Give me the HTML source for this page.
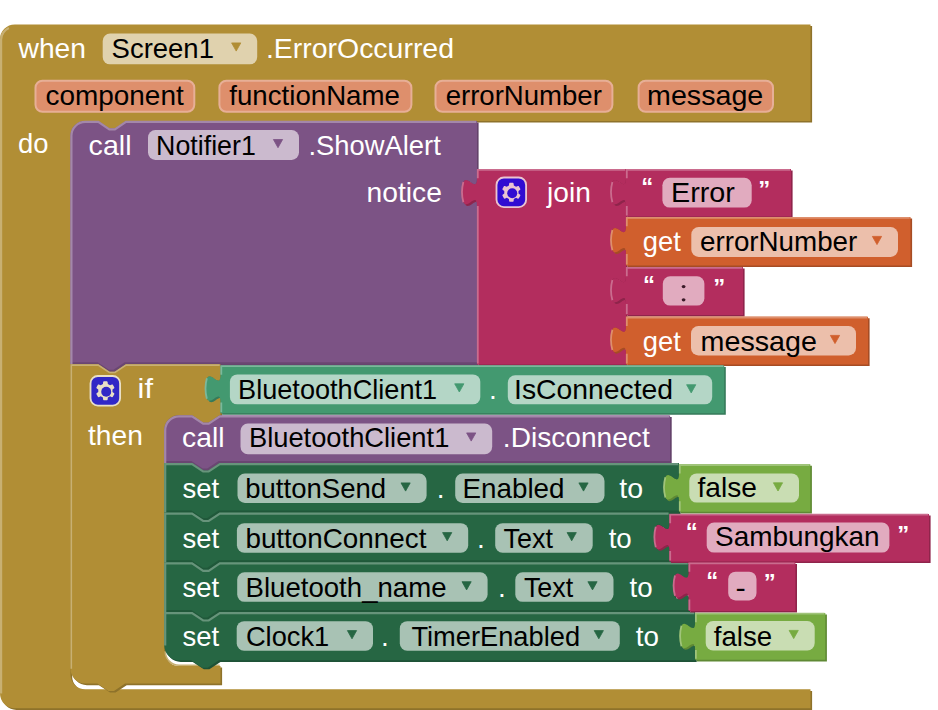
<!DOCTYPE html>
<html><head><meta charset="utf-8"><style>
html,body{margin:0;padding:0;background:#fff;}
svg{display:block;}
text{font-family:"Liberation Sans",sans-serif;}
</style></head><body>
<svg width="938" height="710" viewBox="0 0 938 710">
<path transform="translate(1.6,1.6)" fill="#8e722a" d="M 0,39.3 A 14.8,14.8 0 0,1 14.8,24.5 H 810.5 V 121 H 126 l -11.1,7.4 -5.55,0 -11.1,-7.4 h -12.95 a 14.8,14.8 0 0,0 -14.8,14.8 V 674.5 a 14.8,14.8 0 0,0 14.8,14.8 H 810.5 V 708.3 H 14.8 a 14.8,14.8 0 0,1 -14.8,-14.8 Z"/>
<path fill="#B18E35" d="M 0,39.3 A 14.8,14.8 0 0,1 14.8,24.5 H 810.5 V 121 H 126 l -11.1,7.4 -5.55,0 -11.1,-7.4 h -12.95 a 14.8,14.8 0 0,0 -14.8,14.8 V 674.5 a 14.8,14.8 0 0,0 14.8,14.8 H 810.5 V 708.3 H 14.8 a 14.8,14.8 0 0,1 -14.8,-14.8 Z"/>
<path fill="none" stroke="#c8b072" stroke-width="2.2" d="M 1.1,693.5 V 39.3 A 13.7,13.7 0 0,1 8.88,28"/>
<text x="18.54" y="58.3" font-size="28" fill="#fff" textLength="67.46" lengthAdjust="spacingAndGlyphs">when</text>
<rect x="102.7" y="33.5" width="154.5" height="30.8" rx="7.4" fill="#e0d2ae"/>
<text x="111.55" y="58.2" font-size="28" fill="#000" textLength="102.39" lengthAdjust="spacingAndGlyphs">Screen1</text>
<path fill="#B18E35" stroke="#B18E35" stroke-width="0.8" stroke-linejoin="round" d="M 231.6,42.9 H 240.8 L 236.2,51.1 Z"/>
<text x="265.9" y="58.3" font-size="28" fill="#fff" textLength="188.13" lengthAdjust="spacingAndGlyphs">.ErrorOccurred</text>
<rect x="35.5" y="80.7" width="158.8" height="31.1" rx="7" fill="#DE8F6C" stroke="#E7AF96" stroke-width="2"/>
<text x="45.41" y="105.2" font-size="28" fill="#000" textLength="138.29" lengthAdjust="spacingAndGlyphs">component</text>
<rect x="219.4" y="80.7" width="192" height="31.1" rx="7" fill="#DE8F6C" stroke="#E7AF96" stroke-width="2"/>
<text x="229.31" y="105.2" font-size="28" fill="#000" textLength="170.62" lengthAdjust="spacingAndGlyphs">functionName</text>
<rect x="435.5" y="80.7" width="176.9" height="31.1" rx="7" fill="#DE8F6C" stroke="#E7AF96" stroke-width="2"/>
<text x="445.63" y="105.2" font-size="28" fill="#000" textLength="156.23" lengthAdjust="spacingAndGlyphs">errorNumber</text>
<rect x="638.6" y="80.7" width="134.4" height="31.1" rx="7" fill="#DE8F6C" stroke="#E7AF96" stroke-width="2"/>
<text x="647.1" y="105.2" font-size="28" fill="#000" textLength="116.17" lengthAdjust="spacingAndGlyphs">message</text>
<text x="18.05" y="152.6" font-size="28" fill="#fff" textLength="30.5" lengthAdjust="spacingAndGlyphs">do</text>
<path transform="translate(1.6,1.6)" fill="#63426a" d="M 70.5,135.8 A 14.8,14.8 0 0,1 85.3,121 H 98.25 l 11.1,7.4 5.55,0 11.1,-7.4 H 477 V 178.25 c 0,18.5 -14.8,-14.8 -14.8,13.88 s 14.8,-4.62 14.8,13.88 V 364.3 H 125.08 l -11.1,7.4 -5.55,0 -11.1,-7.4 H 70.5 Z"/>
<path fill="#7C5385" d="M 70.5,135.8 A 14.8,14.8 0 0,1 85.3,121 H 98.25 l 11.1,7.4 5.55,0 11.1,-7.4 H 477 V 178.25 c 0,18.5 -14.8,-14.8 -14.8,13.88 s 14.8,-4.62 14.8,13.88 V 364.3 H 125.08 l -11.1,7.4 -5.55,0 -11.1,-7.4 H 70.5 Z"/>
<path fill="none" stroke="#63426a" stroke-opacity="0.7" stroke-width="2" d="M 477,363.3 H 125.08 l -11.1,7.4 -5.55,0 -11.1,-7.4 H 70.5"/>
<path fill="none" stroke="#a387aa" stroke-width="2.2" d="M 71.4,364.3 V 135.8 A 13.9,13.9 0 0,1 85.3,121.9 H 98.25 l 11.1,7.4 5.55,0 11.1,-7.4 H 476.2"/>
<text x="88.58" y="154.8" font-size="28" fill="#fff" textLength="42.93" lengthAdjust="spacingAndGlyphs">call</text>
<rect x="148" y="130.1" width="151" height="29.9" rx="7.4" fill="#cbbace"/>
<text x="156.1" y="154.9" font-size="28" fill="#000" textLength="99.7" lengthAdjust="spacingAndGlyphs">Notifier1</text>
<path fill="#7C5385" stroke="#7C5385" stroke-width="0.8" stroke-linejoin="round" d="M 273.4,139.5 H 282.6 L 278,147.7 Z"/>
<text x="308.4" y="154.8" font-size="28" fill="#fff" textLength="132.4" lengthAdjust="spacingAndGlyphs">.ShowAlert</text>
<text x="366.53" y="202.4" font-size="28" fill="#fff" textLength="75.33" lengthAdjust="spacingAndGlyphs">notice</text>
<path transform="translate(1.6,1.6)" fill="#8f244b" d="M 477,169 H 626 V 178.25 c 0,18.5 -14.8,-14.8 -14.8,13.88 s 14.8,-4.62 14.8,13.88 V 226.25 c 0,18.5 -14.8,-14.8 -14.8,13.88 s 14.8,-4.62 14.8,13.88 V 276.25 c 0,18.5 -14.8,-14.8 -14.8,13.88 s 14.8,-4.62 14.8,13.88 V 325.95 c 0,18.5 -14.8,-14.8 -14.8,13.88 s 14.8,-4.62 14.8,13.88 V 364.5 H 477 V 206 c 0,-18.5 -14.8,14.8 -14.8,-13.88 s 14.8,4.62 14.8,-13.88 Z"/>
<path fill="#B32D5E" d="M 477,169 H 626 V 178.25 c 0,18.5 -14.8,-14.8 -14.8,13.88 s 14.8,-4.62 14.8,13.88 V 226.25 c 0,18.5 -14.8,-14.8 -14.8,13.88 s 14.8,-4.62 14.8,13.88 V 276.25 c 0,18.5 -14.8,-14.8 -14.8,13.88 s 14.8,-4.62 14.8,13.88 V 325.95 c 0,18.5 -14.8,-14.8 -14.8,13.88 s 14.8,-4.62 14.8,13.88 V 364.5 H 477 V 206 c 0,-18.5 -14.8,14.8 -14.8,-13.88 s 14.8,4.62 14.8,-13.88 Z"/>
<path fill="none" stroke="#ca6c8e" stroke-width="1.8" d="M 477.8,363.5 V 206 M 463.38,202.3 q -2.81,-10.18 0,-20.35 M 477.8,178.25 V 169.8 H 625.2"/>
<g transform="translate(496.5,177.5) scale(1.85)" opacity="0.72"><rect x="0" y="0" width="16" height="16" rx="4" fill="#00f" stroke="#fff" stroke-width="1"/><path fill="#fff" d="m4.203,7.296 0,1.368 -0.92,0.677 -0.11,0.41 0.9,1.559 0.41,0.11 1.043,-0.457 1.187,0.683 0.127,1.134 0.3,0.3 1.8,0 0.3,-0.299 0.127,-1.138 1.185,-0.682 1.046,0.458 0.409,-0.11 0.9,-1.559 -0.11,-0.41 -0.92,-0.677 0,-1.366 0.92,-0.677 0.11,-0.41 -0.9,-1.559 -0.409,-0.109 -1.046,0.458 -1.185,-0.682 -0.127,-1.138 -0.3,-0.299 -1.8,0 -0.3,0.3 -0.126,1.135 -1.187,0.682 -1.043,-0.457 -0.41,0.11 -0.899,1.559 0.108,0.409z"/><circle cx="8.5" cy="8.5" r="2.7" fill="#00f"/></g>
<text x="547.07" y="202" font-size="28" fill="#fff" textLength="43.81" lengthAdjust="spacingAndGlyphs">join</text>
<path transform="translate(1.6,1.6)" fill="#8f244b" d="M 626,169 H 791 V 216.5 H 626 V 206 c 0,-18.5 -14.8,14.8 -14.8,-13.88 s 14.8,4.62 14.8,-13.88 Z"/>
<path fill="#B32D5E" d="M 626,169 H 791 V 216.5 H 626 V 206 c 0,-18.5 -14.8,14.8 -14.8,-13.88 s 14.8,4.62 14.8,-13.88 Z"/>
<path fill="none" stroke="#ca6c8e" stroke-width="1.8" d="M 626.8,215.5 V 206 M 612.38,202.3 q -2.81,-10.18 0,-20.35 M 626.8,178.25 V 169.8 H 790.2"/>
<text x="641.33" y="195.31" font-size="24" font-weight="bold" fill="#fff">&#8220;</text>
<text x="758.33" y="197.61" font-size="24" font-weight="bold" fill="#fff">&#8221;</text>
<rect x="662.4" y="177.8" width="89.3" height="29.8" rx="7.4" fill="#e1abbf"/>
<text x="670.94" y="201.7" font-size="28" fill="#000" textLength="63.94" lengthAdjust="spacingAndGlyphs">Error</text>
<path transform="translate(1.6,1.6)" fill="#a64c24" d="M 626,217 H 910.5 V 265.5 H 626 V 254 c 0,-18.5 -14.8,14.8 -14.8,-13.88 s 14.8,4.62 14.8,-13.88 Z"/>
<path fill="#D05F2D" d="M 626,217 H 910.5 V 265.5 H 626 V 254 c 0,-18.5 -14.8,14.8 -14.8,-13.88 s 14.8,4.62 14.8,-13.88 Z"/>
<path fill="none" stroke="#de8f6c" stroke-width="1.8" d="M 626.8,264.5 V 254 M 612.38,250.3 q -2.81,-10.18 0,-20.35 M 626.8,226.25 V 217.8 H 909.7"/>
<text x="642.76" y="251" font-size="28" fill="#fff" textLength="38.04" lengthAdjust="spacingAndGlyphs">get</text>
<rect x="691.3" y="227" width="206.7" height="30" rx="7.4" fill="#ecbfab"/>
<text x="700.02" y="251.1" font-size="28" fill="#000" textLength="157.24" lengthAdjust="spacingAndGlyphs">errorNumber</text>
<path fill="#D05F2D" stroke="#D05F2D" stroke-width="0.8" stroke-linejoin="round" d="M 872.4,236.4 H 881.6 L 877,244.6 Z"/>
<path transform="translate(1.6,1.6)" fill="#8f244b" d="M 626,267 H 743 V 315 H 626 V 304 c 0,-18.5 -14.8,14.8 -14.8,-13.88 s 14.8,4.62 14.8,-13.88 Z"/>
<path fill="#B32D5E" d="M 626,267 H 743 V 315 H 626 V 304 c 0,-18.5 -14.8,14.8 -14.8,-13.88 s 14.8,4.62 14.8,-13.88 Z"/>
<path fill="none" stroke="#ca6c8e" stroke-width="1.8" d="M 626.8,314 V 304 M 612.38,300.3 q -2.81,-10.18 0,-20.35 M 626.8,276.25 V 267.8 H 742.2"/>
<text x="643.03" y="293.31" font-size="24" font-weight="bold" fill="#fff">&#8220;</text>
<text x="713.23" y="295.61" font-size="24" font-weight="bold" fill="#fff">&#8221;</text>
<rect x="662.8" y="276.3" width="41.6" height="29.3" rx="7.4" fill="#e1abbf"/>
<ellipse cx="683.6" cy="286.6" rx="1.9" ry="1.6" fill="#3a1a28"/><ellipse cx="683.6" cy="299.8" rx="1.9" ry="1.6" fill="#3a1a28"/>
<path transform="translate(1.6,1.6)" fill="#a64c24" d="M 626,316.7 H 868 V 364.5 H 626 V 353.7 c 0,-18.5 -14.8,14.8 -14.8,-13.88 s 14.8,4.62 14.8,-13.88 Z"/>
<path fill="#D05F2D" d="M 626,316.7 H 868 V 364.5 H 626 V 353.7 c 0,-18.5 -14.8,14.8 -14.8,-13.88 s 14.8,4.62 14.8,-13.88 Z"/>
<path fill="none" stroke="#de8f6c" stroke-width="1.8" d="M 626.8,363.5 V 353.7 M 612.38,350 q -2.81,-10.18 0,-20.35 M 626.8,325.95 V 317.5 H 867.2"/>
<text x="642.76" y="350.6" font-size="28" fill="#fff" textLength="38.04" lengthAdjust="spacingAndGlyphs">get</text>
<rect x="691" y="326" width="165" height="29.5" rx="7.4" fill="#ecbfab"/>
<text x="700.6" y="350.7" font-size="28" fill="#000" textLength="116.38" lengthAdjust="spacingAndGlyphs">message</text>
<path fill="#D05F2D" stroke="#D05F2D" stroke-width="0.8" stroke-linejoin="round" d="M 830.4,335.4 H 839.6 L 835,343.6 Z"/>
<path transform="translate(1.6,1.6)" fill="#8e722a" d="M 70.5,364.3 H 98.25 l 11.1,7.4 5.55,0 11.1,-7.4 H 220.5 V 374.65 c 0,18.5 -14.8,-14.8 -14.8,13.88 s 14.8,-4.62 14.8,13.88 V 415 H 219.8 l -11.1,7.4 -5.55,0 -11.1,-7.4 h -12.95 a 14.8,14.8 0 0,0 -14.8,14.8 V 651.2 a 14.8,14.8 0 0,0 14.8,14.8 H 220.5 V 683.6 H 125.08 l -11.1,7.4 -5.55,0 -11.1,-7.4 H 85.3 a 14.8,14.8 0 0,1 -14.8,-14.8 Z"/>
<path fill="#B18E35" d="M 70.5,364.3 H 98.25 l 11.1,7.4 5.55,0 11.1,-7.4 H 220.5 V 374.65 c 0,18.5 -14.8,-14.8 -14.8,13.88 s 14.8,-4.62 14.8,13.88 V 415 H 219.8 l -11.1,7.4 -5.55,0 -11.1,-7.4 h -12.95 a 14.8,14.8 0 0,0 -14.8,14.8 V 651.2 a 14.8,14.8 0 0,0 14.8,14.8 H 220.5 V 683.6 H 125.08 l -11.1,7.4 -5.55,0 -11.1,-7.4 H 85.3 a 14.8,14.8 0 0,1 -14.8,-14.8 Z"/>
<path fill="none" stroke="#c8b072" stroke-width="1.6" d="M 71.3,668.8 V 365.1 H 98.25 l 11.1,7.4 5.55,0 11.1,-7.4 H 219.7"/>
<path fill="none" stroke="#c8b072" stroke-width="1.6" d="M 165.1,651.2 a 14,14 0 0,0 14,14 H 219.7"/>
<g transform="translate(90.5,376) scale(1.85)" opacity="0.72"><rect x="0" y="0" width="16" height="16" rx="4" fill="#00f" stroke="#fff" stroke-width="1"/><path fill="#fff" d="m4.203,7.296 0,1.368 -0.92,0.677 -0.11,0.41 0.9,1.559 0.41,0.11 1.043,-0.457 1.187,0.683 0.127,1.134 0.3,0.3 1.8,0 0.3,-0.299 0.127,-1.138 1.185,-0.682 1.046,0.458 0.409,-0.11 0.9,-1.559 -0.11,-0.41 -0.92,-0.677 0,-1.366 0.92,-0.677 0.11,-0.41 -0.9,-1.559 -0.409,-0.109 -1.046,0.458 -1.185,-0.682 -0.127,-1.138 -0.3,-0.299 -1.8,0 -0.3,0.3 -0.126,1.135 -1.187,0.682 -1.043,-0.457 -0.41,0.11 -0.899,1.559 0.108,0.409z"/><circle cx="8.5" cy="8.5" r="2.7" fill="#00f"/></g>
<text x="137.57" y="398" font-size="28" fill="#fff" textLength="15.38" lengthAdjust="spacingAndGlyphs">if</text>
<text x="87.97" y="445" font-size="28" fill="#fff" textLength="54.86" lengthAdjust="spacingAndGlyphs">then</text>
<path transform="translate(1.6,1.6)" fill="#367a5a" d="M 220.5,365.4 H 724.2 V 413.2 H 220.5 V 402.4 c 0,-18.5 -14.8,14.8 -14.8,-13.88 s 14.8,4.62 14.8,-13.88 Z"/>
<path fill="#439970" d="M 220.5,365.4 H 724.2 V 413.2 H 220.5 V 402.4 c 0,-18.5 -14.8,14.8 -14.8,-13.88 s 14.8,4.62 14.8,-13.88 Z"/>
<path fill="none" stroke="#7bb89b" stroke-width="1.8" d="M 221.3,412.2 V 402.4 M 206.88,398.7 q -2.81,-10.18 0,-20.35 M 221.3,374.65 V 366.2 H 723.4"/>
<rect x="229.9" y="374.4" width="250.4" height="29.9" rx="7.4" fill="#b4d6c6"/>
<text x="238.08" y="398.8" font-size="28" fill="#000" textLength="199.05" lengthAdjust="spacingAndGlyphs">BluetoothClient1</text>
<path fill="#439970" stroke="#439970" stroke-width="0.8" stroke-linejoin="round" d="M 454.7,383.8 H 463.9 L 459.3,392 Z"/>
<text x="488.94" y="398.8" font-size="28" fill="#fff">.</text>
<rect x="507.8" y="375.3" width="204.4" height="29" rx="7.4" fill="#b4d6c6"/>
<text x="514.09" y="398.8" font-size="28" fill="#000" textLength="159.04" lengthAdjust="spacingAndGlyphs">IsConnected</text>
<path fill="#439970" stroke="#439970" stroke-width="0.8" stroke-linejoin="round" d="M 686.6,384.7 H 695.8 L 691.2,392.9 Z"/>
<path transform="translate(1.6,1.6)" fill="#63426a" d="M 164.3,430.2 A 14.8,14.8 0 0,1 179.1,415.4 H 192.05 l 11.1,7.4 5.55,0 11.1,-7.4 H 670.1 V 463 H 218.88 l -11.1,7.4 -5.55,0 -11.1,-7.4 H 164.3 Z"/>
<path fill="#7C5385" d="M 164.3,430.2 A 14.8,14.8 0 0,1 179.1,415.4 H 192.05 l 11.1,7.4 5.55,0 11.1,-7.4 H 670.1 V 463 H 218.88 l -11.1,7.4 -5.55,0 -11.1,-7.4 H 164.3 Z"/>
<path fill="none" stroke="#63426a" stroke-opacity="0.7" stroke-width="2" d="M 670.1,462 H 218.88 l -11.1,7.4 -5.55,0 -11.1,-7.4 H 164.3"/>
<path fill="none" stroke="#a387aa" stroke-width="2.2" d="M 165.2,463 V 430.2 A 13.9,13.9 0 0,1 179.1,416.3 H 192.05 l 11.1,7.4 5.55,0 11.1,-7.4 H 669.3"/>
<text x="182" y="447.2" font-size="28" fill="#fff" textLength="42.5" lengthAdjust="spacingAndGlyphs">call</text>
<rect x="240.5" y="423.5" width="251.7" height="30.7" rx="7.4" fill="#cbbace"/>
<text x="248.96" y="447.1" font-size="28" fill="#000" textLength="200.37" lengthAdjust="spacingAndGlyphs">BluetoothClient1</text>
<path fill="#7C5385" stroke="#7C5385" stroke-width="0.8" stroke-linejoin="round" d="M 466.6,432.9 H 475.8 L 471.2,441.1 Z"/>
<text x="502.84" y="447.2" font-size="28" fill="#fff" textLength="146.87" lengthAdjust="spacingAndGlyphs">.Disconnect</text>
<path transform="translate(1.6,1.6)" fill="#1e5236" d="M 164.3,463 H 192.05 l 11.1,7.4 5.55,0 11.1,-7.4 H 679 V 473.45 c 0,18.5 -14.8,-14.8 -14.8,13.88 s 14.8,-4.62 14.8,13.88 V 512.5 H 218.88 l -11.1,7.4 -5.55,0 -11.1,-7.4 H 164.3 Z"/>
<path fill="#266643" d="M 164.3,463 H 192.05 l 11.1,7.4 5.55,0 11.1,-7.4 H 679 V 473.45 c 0,18.5 -14.8,-14.8 -14.8,13.88 s 14.8,-4.62 14.8,13.88 V 512.5 H 218.88 l -11.1,7.4 -5.55,0 -11.1,-7.4 H 164.3 Z"/>
<path fill="none" stroke="#1e5236" stroke-opacity="0.7" stroke-width="2" d="M 679,511.5 H 218.88 l -11.1,7.4 -5.55,0 -11.1,-7.4 H 164.3"/>
<path fill="none" stroke="#67947b" stroke-width="2.2" d="M 165.2,512.5 V 464.1 H 192.05 l 11.1,7.4 5.55,0 11.1,-7.4 H 678.2"/>
<text x="182.44" y="497.9" font-size="28" fill="#fff" textLength="36.66" lengthAdjust="spacingAndGlyphs">set</text>
<rect x="237.5" y="473.5" width="189.1" height="29.5" rx="7.4" fill="#a8c2b4"/>
<text x="245.23" y="497.9" font-size="28" fill="#000" textLength="140.85" lengthAdjust="spacingAndGlyphs">buttonSend</text>
<path fill="#266643" stroke="#266643" stroke-width="0.8" stroke-linejoin="round" d="M 401,482.9 H 410.2 L 405.6,491.1 Z"/>
<text x="436.84" y="497.9" font-size="28" fill="#fff">.</text>
<rect x="455.2" y="473.5" width="149.3" height="29.5" rx="7.4" fill="#a8c2b4"/>
<text x="462.52" y="497.9" font-size="28" fill="#000" textLength="101.97" lengthAdjust="spacingAndGlyphs">Enabled</text>
<path fill="#266643" stroke="#266643" stroke-width="0.8" stroke-linejoin="round" d="M 578.9,482.9 H 588.1 L 583.5,491.1 Z"/>
<text x="619.37" y="497.9" font-size="28" fill="#fff" textLength="23.83" lengthAdjust="spacingAndGlyphs">to</text>
<path transform="translate(1.6,1.6)" fill="#1e5236" d="M 164.3,512.5 H 192.05 l 11.1,7.4 5.55,0 11.1,-7.4 H 669.4 V 522.95 c 0,18.5 -14.8,-14.8 -14.8,13.88 s 14.8,-4.62 14.8,13.88 V 562.3 H 218.88 l -11.1,7.4 -5.55,0 -11.1,-7.4 H 164.3 Z"/>
<path fill="#266643" d="M 164.3,512.5 H 192.05 l 11.1,7.4 5.55,0 11.1,-7.4 H 669.4 V 522.95 c 0,18.5 -14.8,-14.8 -14.8,13.88 s 14.8,-4.62 14.8,13.88 V 562.3 H 218.88 l -11.1,7.4 -5.55,0 -11.1,-7.4 H 164.3 Z"/>
<path fill="none" stroke="#1e5236" stroke-opacity="0.7" stroke-width="2" d="M 669.4,561.3 H 218.88 l -11.1,7.4 -5.55,0 -11.1,-7.4 H 164.3"/>
<path fill="none" stroke="#67947b" stroke-width="2.2" d="M 165.2,562.3 V 513.6 H 192.05 l 11.1,7.4 5.55,0 11.1,-7.4 H 668.6"/>
<text x="182.44" y="547.6" font-size="28" fill="#fff" textLength="36.66" lengthAdjust="spacingAndGlyphs">set</text>
<rect x="236.9" y="523.2" width="231.3" height="29.5" rx="7.4" fill="#a8c2b4"/>
<text x="245.41" y="547.6" font-size="28" fill="#000" textLength="180.99" lengthAdjust="spacingAndGlyphs">buttonConnect</text>
<path fill="#266643" stroke="#266643" stroke-width="0.8" stroke-linejoin="round" d="M 442.6,532.6 H 451.8 L 447.2,540.8 Z"/>
<text x="476.94" y="547.6" font-size="28" fill="#fff">.</text>
<rect x="495.2" y="523.2" width="97.5" height="29.5" rx="7.4" fill="#a8c2b4"/>
<text x="503.5" y="547.6" font-size="28" fill="#000" textLength="49.4" lengthAdjust="spacingAndGlyphs">Text</text>
<path fill="#266643" stroke="#266643" stroke-width="0.8" stroke-linejoin="round" d="M 567.1,532.6 H 576.3 L 571.7,540.8 Z"/>
<text x="608.68" y="547.6" font-size="28" fill="#fff" textLength="23.08" lengthAdjust="spacingAndGlyphs">to</text>
<path transform="translate(1.6,1.6)" fill="#1e5236" d="M 164.3,562.3 H 192.05 l 11.1,7.4 5.55,0 11.1,-7.4 H 688.6 V 572.75 c 0,18.5 -14.8,-14.8 -14.8,13.88 s 14.8,-4.62 14.8,13.88 V 612 H 218.88 l -11.1,7.4 -5.55,0 -11.1,-7.4 H 164.3 Z"/>
<path fill="#266643" d="M 164.3,562.3 H 192.05 l 11.1,7.4 5.55,0 11.1,-7.4 H 688.6 V 572.75 c 0,18.5 -14.8,-14.8 -14.8,13.88 s 14.8,-4.62 14.8,13.88 V 612 H 218.88 l -11.1,7.4 -5.55,0 -11.1,-7.4 H 164.3 Z"/>
<path fill="none" stroke="#1e5236" stroke-opacity="0.7" stroke-width="2" d="M 688.6,611 H 218.88 l -11.1,7.4 -5.55,0 -11.1,-7.4 H 164.3"/>
<path fill="none" stroke="#67947b" stroke-width="2.2" d="M 165.2,612 V 563.4 H 192.05 l 11.1,7.4 5.55,0 11.1,-7.4 H 687.8"/>
<text x="182.44" y="596.7" font-size="28" fill="#fff" textLength="36.66" lengthAdjust="spacingAndGlyphs">set</text>
<rect x="237.2" y="572.3" width="250.4" height="29.5" rx="7.4" fill="#a8c2b4"/>
<text x="245.54" y="596.7" font-size="28" fill="#000" textLength="200.99" lengthAdjust="spacingAndGlyphs">Bluetooth_name</text>
<path fill="#266643" stroke="#266643" stroke-width="0.8" stroke-linejoin="round" d="M 462,581.7 H 471.2 L 466.6,589.9 Z"/>
<text x="497.94" y="596.7" font-size="28" fill="#fff">.</text>
<rect x="515.3" y="572.3" width="98.2" height="29.5" rx="7.4" fill="#a8c2b4"/>
<text x="523.9" y="596.7" font-size="28" fill="#000" textLength="49.3" lengthAdjust="spacingAndGlyphs">Text</text>
<path fill="#266643" stroke="#266643" stroke-width="0.8" stroke-linejoin="round" d="M 587.9,581.7 H 597.1 L 592.5,589.9 Z"/>
<text x="629.48" y="596.7" font-size="28" fill="#fff" textLength="23.08" lengthAdjust="spacingAndGlyphs">to</text>
<path transform="translate(1.6,1.6)" fill="#1e5236" d="M 164.3,612 H 192.05 l 11.1,7.4 5.55,0 11.1,-7.4 H 695.1 V 622.45 c 0,18.5 -14.8,-14.8 -14.8,13.88 s 14.8,-4.62 14.8,13.88 V 660.3 H 218.88 l -11.1,7.4 -5.55,0 -11.1,-7.4 H 179.1 a 14.8,14.8 0 0,1 -14.8,-14.8 Z"/>
<path fill="#266643" d="M 164.3,612 H 192.05 l 11.1,7.4 5.55,0 11.1,-7.4 H 695.1 V 622.45 c 0,18.5 -14.8,-14.8 -14.8,13.88 s 14.8,-4.62 14.8,13.88 V 660.3 H 218.88 l -11.1,7.4 -5.55,0 -11.1,-7.4 H 179.1 a 14.8,14.8 0 0,1 -14.8,-14.8 Z"/>
<path fill="none" stroke="#67947b" stroke-width="2.2" d="M 165.2,645.5 V 613.1 H 192.05 l 11.1,7.4 5.55,0 11.1,-7.4 H 694.3"/>
<text x="182.44" y="645.6" font-size="28" fill="#fff" textLength="36.66" lengthAdjust="spacingAndGlyphs">set</text>
<rect x="236.7" y="621.2" width="136.3" height="29.5" rx="7.4" fill="#a8c2b4"/>
<text x="245.92" y="645.6" font-size="28" fill="#000" textLength="83.31" lengthAdjust="spacingAndGlyphs">Clock1</text>
<path fill="#266643" stroke="#266643" stroke-width="0.8" stroke-linejoin="round" d="M 347.4,630.6 H 356.6 L 352,638.8 Z"/>
<text x="380.94" y="645.6" font-size="28" fill="#fff">.</text>
<rect x="399.8" y="621.2" width="220" height="29.5" rx="7.4" fill="#a8c2b4"/>
<text x="411.39" y="645.6" font-size="28" fill="#000" textLength="168.67" lengthAdjust="spacingAndGlyphs">TimerEnabled</text>
<path fill="#266643" stroke="#266643" stroke-width="0.8" stroke-linejoin="round" d="M 594.2,630.6 H 603.4 L 598.8,638.8 Z"/>
<text x="635.78" y="645.6" font-size="28" fill="#fff" textLength="23.19" lengthAdjust="spacingAndGlyphs">to</text>
<path transform="translate(1.6,1.6)" fill="#5f8934" d="M 679,464.2 H 810.3 V 511.8 H 679 V 501.2 c 0,-18.5 -14.8,14.8 -14.8,-13.88 s 14.8,4.62 14.8,-13.88 Z"/>
<path fill="#77AB41" d="M 679,464.2 H 810.3 V 511.8 H 679 V 501.2 c 0,-18.5 -14.8,14.8 -14.8,-13.88 s 14.8,4.62 14.8,-13.88 Z"/>
<path fill="none" stroke="#a0c47a" stroke-width="1.8" d="M 679.8,510.8 V 501.2 M 665.38,497.5 q -2.81,-10.18 0,-20.35 M 679.8,473.45 V 465 H 809.5"/>
<rect x="689.3" y="473.4" width="109.7" height="29.2" rx="7.4" fill="#c9ddb3"/>
<text x="697.5" y="496.5" font-size="28" fill="#000" textLength="59.45" lengthAdjust="spacingAndGlyphs">false</text>
<path fill="#77AB41" stroke="#77AB41" stroke-width="0.8" stroke-linejoin="round" d="M 773.4,482.8 H 782.6 L 778,491 Z"/>
<path transform="translate(1.6,1.6)" fill="#8f244b" d="M 669.4,513.9 H 929 V 561.5 H 669.4 V 550.9 c 0,-18.5 -14.8,14.8 -14.8,-13.88 s 14.8,4.62 14.8,-13.88 Z"/>
<path fill="#B32D5E" d="M 669.4,513.9 H 929 V 561.5 H 669.4 V 550.9 c 0,-18.5 -14.8,14.8 -14.8,-13.88 s 14.8,4.62 14.8,-13.88 Z"/>
<path fill="none" stroke="#ca6c8e" stroke-width="1.8" d="M 670.2,560.5 V 550.9 M 655.78,547.2 q -2.81,-10.18 0,-20.35 M 670.2,523.15 V 514.7 H 928.2"/>
<text x="685.83" y="540.21" font-size="24" font-weight="bold" fill="#fff">&#8220;</text>
<text x="897.13" y="542.51" font-size="24" font-weight="bold" fill="#fff">&#8221;</text>
<rect x="706.7" y="522.5" width="182.7" height="30.1" rx="7.4" fill="#e1abbf"/>
<text x="715.03" y="546" font-size="28" fill="#000" textLength="164.48" lengthAdjust="spacingAndGlyphs">Sambungkan</text>
<path transform="translate(1.6,1.6)" fill="#8f244b" d="M 688.6,562.5 H 795.4 V 610.9 H 688.6 V 599.5 c 0,-18.5 -14.8,14.8 -14.8,-13.88 s 14.8,4.62 14.8,-13.88 Z"/>
<path fill="#B32D5E" d="M 688.6,562.5 H 795.4 V 610.9 H 688.6 V 599.5 c 0,-18.5 -14.8,14.8 -14.8,-13.88 s 14.8,4.62 14.8,-13.88 Z"/>
<path fill="none" stroke="#ca6c8e" stroke-width="1.8" d="M 689.4,609.9 V 599.5 M 674.98,595.8 q -2.81,-10.18 0,-20.35 M 689.4,571.75 V 563.3 H 794.6"/>
<text x="706.23" y="588.81" font-size="24" font-weight="bold" fill="#fff">&#8220;</text>
<text x="763.73" y="591.11" font-size="24" font-weight="bold" fill="#fff">&#8221;</text>
<rect x="728.2" y="571.7" width="28.3" height="28.8" rx="7.4" fill="#e1abbf"/>
<text x="735.43" y="596.9" font-size="28" fill="#000" textLength="10.26" lengthAdjust="spacingAndGlyphs">-</text>
<path transform="translate(1.6,1.6)" fill="#5f8934" d="M 695.1,612.9 H 825.3 V 659.8 H 695.1 V 649.9 c 0,-18.5 -14.8,14.8 -14.8,-13.88 s 14.8,4.62 14.8,-13.88 Z"/>
<path fill="#77AB41" d="M 695.1,612.9 H 825.3 V 659.8 H 695.1 V 649.9 c 0,-18.5 -14.8,14.8 -14.8,-13.88 s 14.8,4.62 14.8,-13.88 Z"/>
<path fill="none" stroke="#a0c47a" stroke-width="1.8" d="M 695.9,658.8 V 649.9 M 681.48,646.2 q -2.81,-10.18 0,-20.35 M 695.9,622.15 V 613.7 H 824.5"/>
<rect x="705.7" y="621" width="109" height="29.4" rx="7.4" fill="#c9ddb3"/>
<text x="713.81" y="645.5" font-size="28" fill="#000" textLength="58.42" lengthAdjust="spacingAndGlyphs">false</text>
<path fill="#77AB41" stroke="#77AB41" stroke-width="0.8" stroke-linejoin="round" d="M 789.1,630.4 H 798.3 L 793.7,638.6 Z"/>
</svg>
</body></html>
